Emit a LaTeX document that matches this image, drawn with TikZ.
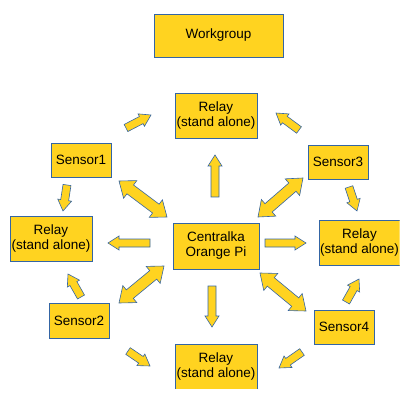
\documentclass[tikz,border=0pt]{standalone}
\usepackage{fontspec}
\setmainfont{Liberation Sans}
\usetikzlibrary{calc}
\definecolor{boxfill}{HTML}{FFD320}
\definecolor{boxline}{HTML}{3465A4}
\tikzset{
  box/.style={draw=boxline,fill=boxfill,line width=.7pt,align=center,inner sep=0pt,
    font=\fontsize{13.5}{15}\selectfont},
  relay/.style={box,minimum width=82pt,minimum height=45pt},
  sensor/.style={box,minimum width=60pt,minimum height=34pt},
  blockarrow/.style={draw=boxline,fill=boxfill,line width=.6pt,line join=miter}
}
% block arrow, tip at #2
\newcommand{\onearrow}[2]{%
  \coordinate (p) at #1; \coordinate (q) at #2;
  \coordinate (h) at ($(q)!11pt!(p)$);
  \draw[blockarrow] ($(p)!4pt!90:(q)$) -- ($(h)!4pt!90:(q)$) -- ($(h)!7pt!90:(q)$) -- (q)
    -- ($(h)!7pt!-90:(q)$) -- ($(h)!4pt!-90:(q)$) -- ($(p)!4pt!-90:(q)$) -- cycle;}
% block arrow, tips at both ends
\newcommand{\twoarrow}[2]{%
  \coordinate (p) at #1; \coordinate (q) at #2;
  \coordinate (hp) at ($(p)!14pt!(q)$); \coordinate (hq) at ($(q)!14pt!(p)$);
  \draw[blockarrow] (p) -- ($(hp)!11pt!90:(q)$) -- ($(hp)!5.5pt!90:(q)$)
    -- ($(hq)!5.5pt!-90:(p)$) -- ($(hq)!11pt!-90:(p)$) -- (q)
    -- ($(hq)!11pt!90:(p)$) -- ($(hq)!5.5pt!90:(p)$)
    -- ($(hp)!5.5pt!-90:(q)$) -- ($(hp)!11pt!-90:(q)$) -- cycle;}
\begin{document}
\begin{tikzpicture}[x=1pt,y=-1pt]
\useasboundingbox (0,0) rectangle (410,401);
\clip (0,0) rectangle (399.6,388.3);
% boxes
\node[box,minimum width=129pt,minimum height=43pt] (wg) at (218.5,35.5) {Workgroup};
\node[relay] (rtop) at (216,115.5) {Relay\\(stand alone)};
\node[sensor] (s1) at (81,160) {Sensor1};
\node[sensor] (s3) at (338,162) {Sensor3};
\node[relay] (rleft) at (51,238.5) {Relay\\(stand alone)};
\node[box,minimum width=86pt,minimum height=46pt] (cpi) at (216,246) {Centralka\\Orange Pi};
\node[relay,minimum width=81pt] (rright) at (359.5,243) {Relay\\(stand alone)};
\node[sensor,minimum height=35pt] (s2) at (79,320.5) {Sensor2};
\node[sensor] (s4) at (344,327) {Sensor4};
\node[relay] (rbot) at (216,366.5) {Relay\\(stand alone)};
% arrows
\onearrow{(126,128)}{(151,115)}
\onearrow{(299,130)}{(276,113)}
\onearrow{(215,197)}{(215,155)}
\onearrow{(67,185)}{(63,211)}
\onearrow{(349,187)}{(357,211)}
\onearrow{(150,243)}{(108,243)}
\onearrow{(265,243)}{(306,243)}
\onearrow{(81,297)}{(68,274)}
\onearrow{(212,286)}{(212,327)}
\onearrow{(346,302)}{(359,279)}
\onearrow{(128,351)}{(150,366)}
\onearrow{(302,352)}{(279,368)}
\twoarrow{(119,181)}{(167,217)}
\twoarrow{(303,178)}{(258,217)}
\twoarrow{(119,303)}{(164,266)}
\twoarrow{(260,273)}{(306,311)}
\end{tikzpicture}
\end{document}
